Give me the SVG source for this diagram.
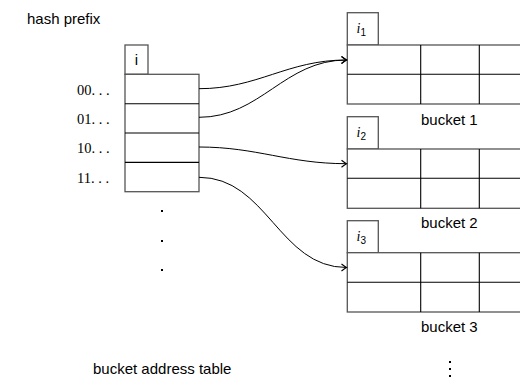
<svg xmlns="http://www.w3.org/2000/svg" width="520" height="377" viewBox="0 0 520 377">
<defs>
<style>
.sans{font-family:"Liberation Sans","DejaVu Sans",sans-serif;font-size:15px;fill:#000}
.serif{font-family:"Liberation Serif","DejaVu Serif",serif;font-size:14.5px;fill:#000}
.it{font-family:"Liberation Serif","DejaVu Serif",serif;font-style:italic;font-size:14px}
.sub{font-family:"Liberation Sans","DejaVu Sans",sans-serif;font-size:10px}
.box{fill:#fff;stroke:#555;stroke-width:1.3}
.ln{stroke:#000;stroke-width:1.1;fill:none}
.conn{fill:none;stroke:#000;stroke-width:1}
.dot{fill:#000}
</style>
<marker id="arr" markerWidth="10" markerHeight="10" refX="0" refY="0" viewBox="-6 -5 8 10" orient="auto" markerUnits="userSpaceOnUse">
<path d="M -5 -3.5 Q -1.5 -0.8 0 0 Q -1.5 0.8 -5 3.5" fill="none" stroke="#000" stroke-width="1.1"/>
</marker>
</defs>

<text class="sans" x="27" y="24">hash prefix</text>

<g id="table">
<rect class="box" x="125" y="45" width="23" height="29.3"/>
<text class="sans" x="136.5" y="65" text-anchor="middle">i</text>
<rect class="box" x="125" y="74.3" width="74" height="117.4"/>
<line class="ln" x1="125" y1="103.7" x2="199" y2="103.7"/>
<line class="ln" x1="125" y1="133" x2="199" y2="133"/>
<line class="ln" x1="125" y1="162.4" x2="199" y2="162.4"/>
<text class="serif" x="77" y="95">00. . .</text>
<text class="serif" x="77" y="124">01. . .</text>
<text class="serif" x="77" y="153">10. . .</text>
<text class="serif" x="77" y="182.5">11. . .</text>
<rect class="dot" x="161" y="210" width="2" height="2"/>
<rect class="dot" x="161" y="240" width="2" height="2"/>
<rect class="dot" x="161" y="269" width="2" height="2"/>
<text class="sans" x="93" y="373.5">bucket address table</text>
</g>

<g id="bucket1">
<rect class="box" x="347.3" y="12.7" width="31" height="32.3"/>
<text x="356.5" y="33"><tspan class="it">i</tspan><tspan class="sub" dy="2.5">1</tspan></text>
<rect class="box" x="347.3" y="45" width="180" height="59"/>
<line class="ln" x1="347.3" y1="74.3" x2="520" y2="74.3"/>
<line class="ln" x1="420.7" y1="45" x2="420.7" y2="104"/>
<line class="ln" x1="479.3" y1="45" x2="479.3" y2="104"/>
<text class="sans" x="421" y="124.5">bucket 1</text>
</g>

<g id="bucket2">
<rect class="box" x="347.3" y="116.7" width="31" height="32.3"/>
<text x="356.5" y="137"><tspan class="it">i</tspan><tspan class="sub" dy="2.5">2</tspan></text>
<rect class="box" x="347.3" y="149" width="180" height="59.3"/>
<line class="ln" x1="347.3" y1="178.3" x2="520" y2="178.3"/>
<line class="ln" x1="420.7" y1="149" x2="420.7" y2="208.3"/>
<line class="ln" x1="479.3" y1="149" x2="479.3" y2="208.3"/>
<text class="sans" x="421" y="228">bucket 2</text>
</g>

<g id="bucket3">
<rect class="box" x="347.3" y="220.7" width="31" height="32"/>
<text x="356.5" y="241"><tspan class="it">i</tspan><tspan class="sub" dy="2.5">3</tspan></text>
<rect class="box" x="347.3" y="252.7" width="180" height="59.3"/>
<line class="ln" x1="347.3" y1="282.3" x2="520" y2="282.3"/>
<line class="ln" x1="420.7" y1="252.7" x2="420.7" y2="312"/>
<line class="ln" x1="479.3" y1="252.7" x2="479.3" y2="312"/>
<text class="sans" x="421" y="332">bucket 3</text>
<rect class="dot" x="449" y="361" width="2" height="2"/>
<rect class="dot" x="449" y="368" width="2" height="2"/>
<rect class="dot" x="449" y="375" width="2" height="2"/>
</g>

<g id="connectors">
<path class="conn" marker-end="url(#arr)" d="M199 88.7 C258 88.7 287 60 346.5 60"/>
<path class="conn" marker-end="url(#arr)" d="M199 117.3 C261 117.3 284 60 346.5 60"/>
<path class="conn" marker-end="url(#arr)" d="M199 147 C257 147 288 163.7 346.5 163.7"/>
<path class="conn" marker-end="url(#arr)" d="M199 177.3 C267 177.3 279 267.5 346.5 267.5"/>
</g>
</svg>
